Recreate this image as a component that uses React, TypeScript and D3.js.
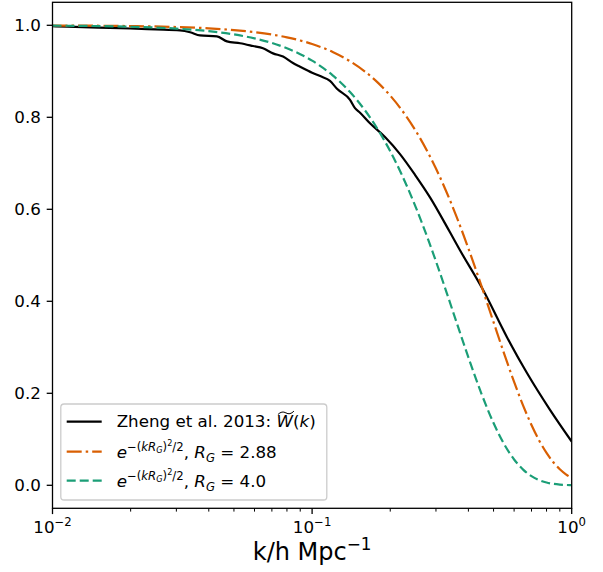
import React, { useLayoutEffect, useRef, useState } from "react";
import * as d3 from "d3";

// ---- data ----
const kZheng = [0.01, 0.0114, 0.015, 0.0199, 0.025, 0.031, 0.0339, 0.037, 0.043, 0.047, 0.0528, 0.0592, 0.0647, 0.0707, 0.0773, 0.0844, 0.0899, 0.1, 0.108, 0.1172, 0.1247, 0.14, 0.1463, 0.153, 0.1671, 0.1909, 0.2181, 0.2491, 0.2846, 0.3398, 0.3713, 0.4553, 0.5633, 0.6726, 0.825, 1.0];
const wZheng = [0.998, 0.997, 0.995, 0.993, 0.991, 0.989, 0.985, 0.978, 0.976, 0.965, 0.961, 0.955, 0.95, 0.939, 0.932, 0.918, 0.91, 0.897, 0.889, 0.879, 0.862, 0.838, 0.82, 0.81, 0.787, 0.757, 0.72, 0.675, 0.626, 0.55, 0.511, 0.425, 0.322, 0.244, 0.164, 0.095];

const kGauss = [0.01, 0.02, 0.03, 0.04, 0.05, 0.06, 0.07, 0.08, 0.09, 0.1, 0.12, 0.14, 0.16, 0.18, 0.2, 0.22, 0.25, 0.28, 0.3, 0.33, 0.36, 0.4, 0.45, 0.5, 0.55, 0.6, 0.65, 0.7, 0.75, 0.8, 0.85, 0.9, 0.95, 1.0];
const wGauss288 = [0.9996, 0.9983, 0.9963, 0.9934, 0.9897, 0.9852, 0.9799, 0.9738, 0.967, 0.9594, 0.942, 0.9219, 0.8993, 0.8743, 0.8471, 0.8181, 0.7717, 0.7224, 0.6885, 0.6366, 0.5842, 0.515, 0.4318, 0.3546, 0.2852, 0.2247, 0.1734, 0.1311, 0.097, 0.0703, 0.05, 0.0348, 0.0237, 0.0158];
const wGauss40 = [0.9992, 0.9968, 0.9928, 0.9873, 0.9802, 0.9716, 0.9616, 0.9501, 0.9373, 0.9231, 0.8912, 0.8549, 0.8148, 0.7717, 0.7262, 0.679, 0.6065, 0.5341, 0.4868, 0.4185, 0.3546, 0.278, 0.1979, 0.1353, 0.0889, 0.0561, 0.0341, 0.0198, 0.0111, 0.006, 0.0031, 0.0015, 0.0007, 0.0003];

const xMajor = [0.01, 0.1, 1];
const xMajorExp = ["−2", "−1", "0"];
const xMinor = [0.02, 0.03, 0.04, 0.05, 0.06, 0.07, 0.08, 0.09, 0.2, 0.3, 0.4, 0.5, 0.6, 0.7, 0.8, 0.9];
const yTicks = [0, 0.2, 0.4, 0.6, 0.8, 1.0];

const BLACK = "#000000";
const ORANGE = "#d95f02";
const GREEN = "#1b9e77";

// ---- layout ----
const W = 603, H = 572;
const L = 52.5, R = 571.7, T = 2.3, B = 508.3;
const F = 16.7;
const FONT = "DejaVu Sans";

type Seg = { t: string; it?: boolean; s?: number; sh?: number };

function MathText({ segs, x, y, anchor = "start", size = F, textRef }: { segs: Seg[]; x: number; y: number; anchor?: string; size?: number; textRef?: any }) {
  let prev = 0;
  return (
    <text ref={textRef} x={x} y={y} textAnchor={anchor} fontFamily={FONT} fontSize={size} fill="#000">
      {segs.map((sg, i) => {
        const sh = (sg.sh ?? 0) * size;
        const dy = -(sh - prev);
        prev = sh;
        return (
          <tspan key={i} dy={dy} fontStyle={sg.it ? "italic" : "normal"} fontSize={(sg.s ?? 1) * size}>
            {sg.t}
          </tspan>
        );
      })}
    </text>
  );
}

function gaussSegs(rg: string): Seg[] {
  return [
    { t: "e", it: true },
    { t: "−(", s: 0.7, sh: 0.45 },
    { t: "kR", it: true, s: 0.7, sh: 0.45 },
    { t: "G", it: true, s: 0.49, sh: 0.33 },
    { t: ")", s: 0.7, sh: 0.45 },
    { t: "2", s: 0.49, sh: 0.72 },
    { t: "/2", s: 0.7, sh: 0.45 },
    { t: ", ", sh: 0 },
    { t: "R", it: true },
    { t: "G", it: true, s: 0.7, sh: -0.22 },
    { t: " = " + rg, sh: 0 },
  ];
}

export default function App() {
  const x = d3.scaleLog().domain([0.01, 1]).range([L, R]);
  const y = d3.scaleLinear().domain([-0.05, 1.05]).range([B, T]);
  const line = d3
    .line<[number, number]>()
    .x((d) => x(d[0]))
    .y((d) => y(d[1]))
    .curve(d3.curveMonotoneX);

  const zheng = line(kZheng.map((k, i) => [k, wZheng[i]] as [number, number])) || "";
  const g288 = line(kGauss.map((k, i) => [k, wGauss288[i]] as [number, number])) || "";
  const g40 = line(kGauss.map((k, i) => [k, wGauss40[i]] as [number, number])) || "";

  const row1Ref = useRef<SVGTextElement>(null);
  const [tilde, setTilde] = useState<{ x: number; y: number; w: number } | null>(null);
  useLayoutEffect(() => {
    const el = row1Ref.current;
    if (!el) return;
    try {
      const idx = "Zheng et al. 2013: ".length;
      const ext = el.getExtentOfChar(idx);
      setTilde({ x: ext.x + 1.5, y: ext.y + 1, w: ext.width - 0.5 });
    } catch (e) {}
  }, []);

  const legX = 60.8, legY = 404, legW = 266, legH = 96;
  const hx0 = 66.7, hx1 = 101.7, tx = 116.7;
  const rows = [421.7, 451.7, 480.7];
  const baselines = [427.3, 458.3, 487.3];

  return (
    <svg width={W} height={H} style={{ position: "absolute", left: 0, top: 0, background: "#fff" }}>
      <rect x={0} y={0} width={W} height={H} fill="#fff" />
      <defs>
        <clipPath id="plotclip">
          <rect x={L} y={T} width={R - L} height={B - T} />
        </clipPath>
      </defs>
      <g clipPath="url(#plotclip)" fill="none" strokeWidth={2.2}>
        <path d={zheng} stroke={BLACK} strokeLinejoin="round" />
        <path d={g288} stroke={ORANGE} strokeDasharray="15,4,2.5,4" />
        <path d={g40} stroke={GREEN} strokeDasharray="9,4" />
      </g>

      {/* frame */}
      <rect x={L} y={T} width={R - L} height={B - T} fill="none" stroke="#000" strokeWidth={1.3} />

      {/* x ticks */}
      {xMajor.map((v, i) => (
        <g key={"xm" + i}>
          <line x1={x(v)} x2={x(v)} y1={B} y2={B + 5.8} stroke="#000" strokeWidth={1.3} />
          <MathText
            x={x(v)}
            y={533}
            anchor="middle"
            segs={[{ t: "10" }, { t: xMajorExp[i], s: 0.7, sh: 0.4 }]}
          />
        </g>
      ))}
      {xMinor.map((v, i) => (
        <line key={"xn" + i} x1={x(v)} x2={x(v)} y1={B} y2={B + 3.3} stroke="#000" strokeWidth={1} />
      ))}
      <MathText
        x={(L + R) / 2}
        y={560}
        anchor="middle"
        size={24}
        segs={[{ t: "k/h Mpc" }, { t: "−1", s: 0.7, sh: 0.4 }]}
      />

      {/* y ticks */}
      {yTicks.map((v, i) => (
        <g key={"y" + i}>
          <line x1={L - 5.8} x2={L} y1={y(v)} y2={y(v)} stroke="#000" strokeWidth={1.3} />
          <text x={L - 11.6} y={y(v)} dy="0.36em" textAnchor="end" fontFamily={FONT} fontSize={F} fill="#000">
            {v.toFixed(1)}
          </text>
        </g>
      ))}

      {/* legend */}
      <rect x={legX} y={legY} width={legW} height={legH} rx={3.3} ry={3.3} fill="#fff" fillOpacity={0.8} stroke="#cccccc" strokeWidth={1.3} />
      <line x1={hx0} x2={hx1} y1={rows[0]} y2={rows[0]} stroke={BLACK} strokeWidth={2.2} />
      <line x1={hx0} x2={hx1} y1={rows[1]} y2={rows[1]} stroke={ORANGE} strokeWidth={2.2} strokeDasharray="15,4,2.5,4" />
      <line x1={hx0} x2={hx1} y1={rows[2]} y2={rows[2]} stroke={GREEN} strokeWidth={2.2} strokeDasharray="9,4" />
      <MathText
        textRef={row1Ref}
        x={tx}
        y={baselines[0]}
        segs={[{ t: "Zheng et al. 2013: " }, { t: "W", it: true }, { t: "(" }, { t: "k", it: true }, { t: ")" }]}
      />
      {tilde && (
        <path
          d={`M${tilde.x},${tilde.y + 2.2} Q${tilde.x + tilde.w * 0.25},${tilde.y - 1.8} ${tilde.x + tilde.w * 0.5},${tilde.y + 0.6} T${tilde.x + tilde.w},${tilde.y - 1.2}`}
          fill="none"
          stroke="#000"
          strokeWidth={1}
        />
      )}
      <MathText x={tx} y={baselines[1]} segs={gaussSegs("2.88")} />
      <MathText x={tx} y={baselines[2]} segs={gaussSegs("4.0")} />
    </svg>
  );
}
